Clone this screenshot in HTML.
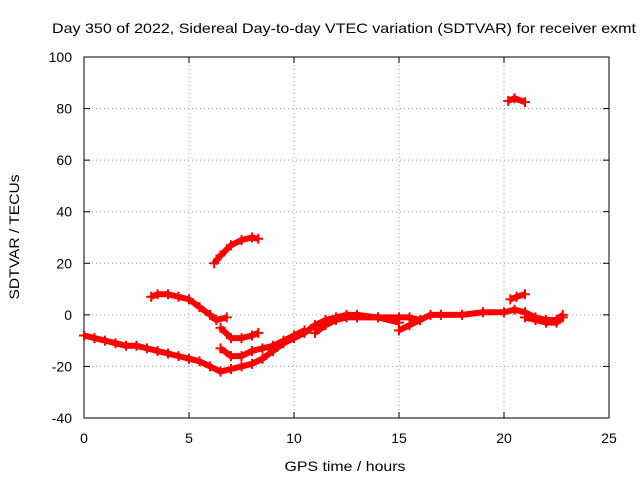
<!DOCTYPE html>
<html><head><meta charset="utf-8"><style>
body{margin:0;background:#fff}
svg{display:block;font-family:"Liberation Sans",sans-serif;font-size:14px}
</style></head><body>
<svg width="640" height="480">
<rect x="0" y="0" width="640" height="480" fill="#fff"/>
<g id="grid"></g><g id="axes"></g><g id="series"></g>
<text x="344" y="33" text-anchor="middle" textLength="584" lengthAdjust="spacingAndGlyphs">Day 350 of 2022, Sidereal Day-to-day VTEC variation (SDTVAR) for receiver exmt</text>
<text x="345" y="471" text-anchor="middle" textLength="121" lengthAdjust="spacingAndGlyphs">GPS time / hours</text>
<text transform="translate(19,237) rotate(-90)" text-anchor="middle" textLength="125" lengthAdjust="spacingAndGlyphs">SDTVAR / TECUs</text>
</svg>
<script>
const xTicks=[0,5,10,15,20,25];
const yTicks=[-40,-20,0,20,40,60,80,100];
const trackMain=[[0,-8],[0.5,-9],[1,-10],[1.5,-11],[2,-12],[2.5,-12],[3,-13],[3.5,-14],[4,-15],[4.5,-16],[5,-17],[5.5,-18],[6,-20],[6.5,-22],[7,-21],[7.5,-20],[8,-19],[8.5,-17],[9,-14],[9.5,-11],[10,-9],[10.5,-7],[11,-4],[11.5,-2],[12,-1],[12.5,0],[13,0],[14,-1],[15,-1],[15.5,-1],[16,-2],[16.5,0],[17,0],[18,0],[19,1],[20,1],[20.5,2],[21,1],[21.5,-1],[22,-2],[22.5,-2],[22.8,0]];
const trackHump=[[3.2,7],[3.5,8],[4,8],[4.5,7],[5,6],[5.5,3],[6,0],[6.3,-2],[6.8,-1]];
const trackHigh=[[6.2,20],[6.5,23],[7,27],[7.5,29],[8,30],[8.3,29.5]];
const trackMid=[[6.5,-5],[7,-9],[7.5,-9],[8,-8],[8.3,-7]];
const trackLow=[[6.5,-13],[7,-16],[7.5,-16],[8,-14],[8.5,-13],[9,-12],[9.5,-10],[10,-8],[10.5,-6]];
const trackB=[[11,-7],[11.5,-4],[12,-2],[12.5,-1],[13,-1],[14,-1],[15,-3]];
const trackC=[[15,-6],[15.5,-4],[16,-2]];
const trackOutlier=[[20.2,83],[20.5,84],[21,82.5]];
const trackSmall=[[20.3,6],[20.6,7],[21,8]];
const trackTail=[[21,-1],[21.5,-2],[22,-3],[22.5,-3],[22.8,-1]];
const tracks=[trackMain,trackHump,trackHigh,trackMid,trackLow,trackB,trackC,trackOutlier,trackSmall,trackTail];
const X0=84,X1=609,Y0=418,Y1=57;
const sx=v=>X0+(v-0)/25*(X1-X0);
const sy=v=>Y0-(v+40)/140*(Y0-Y1);
const NS="http://www.w3.org/2000/svg";
function mk(tag,attrs,parent){const e=document.createElementNS(NS,tag);for(const k in attrs)e.setAttribute(k,attrs[k]);parent.appendChild(e);return e;}
const grid=document.getElementById('grid'),axes=document.getElementById('axes'),ser=document.getElementById('series');
xTicks.forEach(t=>{
 if(t>0&&t<25){const g=mk('line',{x1:sx(t),x2:sx(t),y1:Y0,y2:Y1,stroke:'#a0a0a0','stroke-dasharray':'1,3'},grid);
 
 }
 const l=mk('text',{x:sx(t),y:Y0+25,'text-anchor':'middle'},axes);l.textContent=t;
 
 
 mk('line',{x1:sx(t),x2:sx(t),y1:Y0,y2:Y0-6,stroke:'#000'},axes);
 mk('line',{x1:sx(t),x2:sx(t),y1:Y1,y2:Y1+6,stroke:'#000'},axes);
});
yTicks.forEach(t=>{
 if(t>-40&&t<100){const g=mk('line',{x1:X0,x2:X1,y1:sy(t),y2:sy(t),stroke:'#a0a0a0','stroke-dasharray':'1,3'},grid);
 
 }
 const l=mk('text',{x:X0-12,y:sy(t)+5,'text-anchor':'end'},axes);l.textContent=t;
 
 
 mk('line',{x1:X0,x2:X0+6,y1:sy(t),y2:sy(t),stroke:'#000'},axes);
 mk('line',{x1:X1,x2:X1-6,y1:sy(t),y2:sy(t),stroke:'#000'},axes);
});
const fr=mk('rect',{x:X0,y:Y1,width:X1-X0,height:Y0-Y1,fill:'none',stroke:'#000'},axes);


tracks.forEach(tr=>{
 const pl=mk('polyline',{points:tr.map(p=>sx(p[0])+','+sy(p[1])).join(' '),fill:'none',stroke:'#f00','stroke-width':6,'stroke-linejoin':'round'},ser);
 
 
 tr.forEach(p=>{
  const x=sx(p[0]),y=sy(p[1]);
  const m=mk('path',{d:`M${x-5},${y}H${x+5}M${x},${y-5}V${y+5}`,stroke:'#f00','stroke-width':2},ser);
  
  
 });
});
</script>
</body></html>
